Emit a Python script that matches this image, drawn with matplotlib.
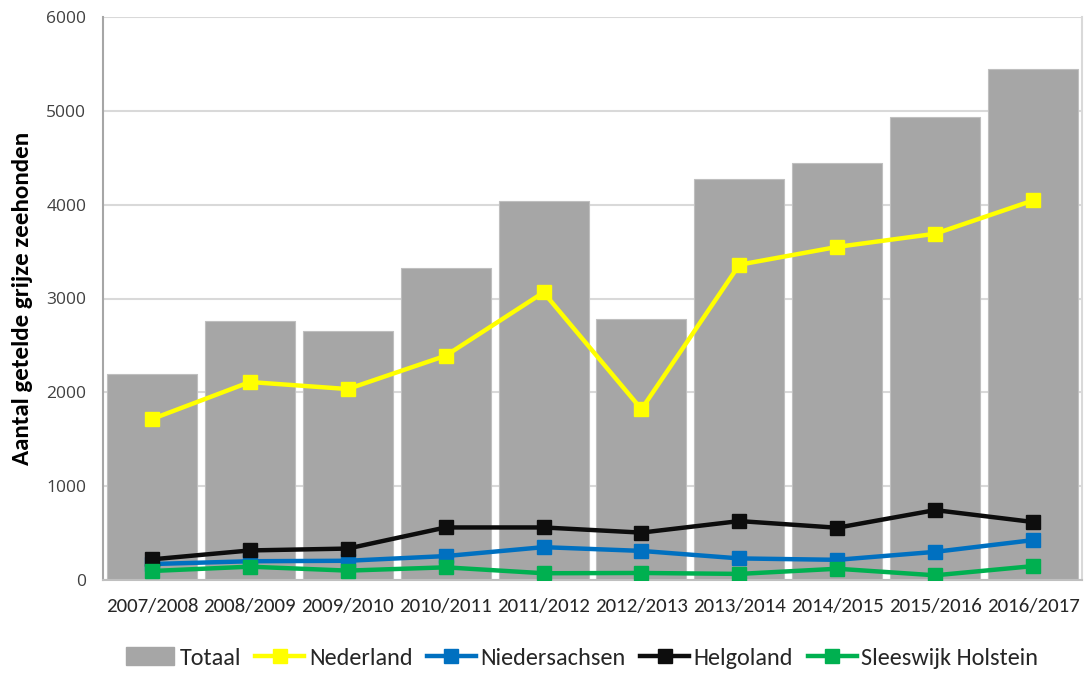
import matplotlib
matplotlib.use("Agg")
import matplotlib.pyplot as plt
from matplotlib.patches import Patch
from matplotlib.lines import Line2D
from matplotlib import font_manager as fm

seasons = ["2007/2008", "2008/2009", "2009/2010", "2010/2011", "2011/2012",
           "2012/2013", "2013/2014", "2014/2015", "2015/2016", "2016/2017"]
totaal = [2200, 2760, 2655, 3320, 4040, 2785, 4275, 4440, 4935, 5445]
nederland = [1715, 2110, 2035, 2390, 3065, 1820, 3360, 3550, 3690, 4045]
niedersachsen = [170, 200, 205, 255, 350, 310, 230, 215, 300, 425]
helgoland = [220, 315, 335, 560, 560, 505, 628, 557, 745, 618]
sleeswijk = [96, 142, 100, 135, 72, 75, 65, 120, 50, 148]

names = {f.name for f in fm.fontManager.ttflist}
narrow = next((n for n in ["Carlito", "Open Sans Condensed", "Cabin Condensed",
                           "Archivo Narrow", "Barlow Semi Condensed"] if n in names), "DejaVu Sans")
ticks_font = "Open Sans" if "Open Sans" in names else "DejaVu Sans"

fig = plt.figure(figsize=(10.84, 6.73), dpi=100)
ax = fig.add_axes([103/1084, 1-580/673, (1082-103)/1084, (580-17)/673])

x = list(range(len(seasons)))
ax.bar(x, totaal, width=0.92, color="#A6A6A6", edgecolor="#BFBFBF", linewidth=0.8, zorder=2)

series = [(nederland, "#FFFF00", "Nederland"),
          (niedersachsen, "#0070C0", "Niedersachsen"),
          (helgoland, "#0D0D0D", "Helgoland"),
          (sleeswijk, "#00B050", "Sleeswijk Holstein")]
for vals, col, lab in series:
    ax.plot(x, vals, color=col, lw=3.2, marker="s", markersize=10, zorder=3)

ax.set_xlim(-0.5, len(seasons) - 0.5)
ax.set_ylim(0, 6000)
ax.set_yticks(range(0, 6001, 1000))
ax.yaxis.grid(True, color="#D9D9D9", lw=1.5, zorder=0)
ax.set_axisbelow(True)
ax.spines["top"].set_visible(False)
ax.spines["left"].set_color("#A6A6A6")
ax.spines["left"].set_linewidth(1.5)
ax.spines["bottom"].set_color("#BFBFBF")
ax.spines["bottom"].set_linewidth(1.5)
ax.spines["right"].set_color("#D9D9D9")
ax.spines["right"].set_linewidth(1.5)
ax.tick_params(axis="both", length=0)
ax.tick_params(axis="y", pad=12)
ax.tick_params(axis="x", pad=13)
ax.set_xticks(x)
ax.set_xticklabels(seasons, fontfamily=narrow, fontsize=15, color="#262626")
for t in ax.get_yticklabels():
    t.set_fontfamily(ticks_font)
    t.set_fontsize(12.5)
    t.set_color("#404040")

ax.set_ylabel("Aantal getelde grijze zeehonden", fontfamily=narrow, fontweight="bold",
              fontsize=18, color="#000000")
ax.yaxis.set_label_coords(-0.071, 0.5)

handles = [Patch(facecolor="#A6A6A6", edgecolor="#A6A6A6", label="Totaal")]
for vals, col, lab in series:
    handles.append(Line2D([0], [0], color=col, lw=3.2, marker="s", markersize=10, label=lab))
leg = fig.legend(handles=handles, loc="center", bbox_to_anchor=(0.537, 1-658/673), ncol=5,
                 frameon=False, prop={"family": narrow, "size": 17.5},
                 handlelength=2.0, handletextpad=0.2, columnspacing=0.6)
for t in leg.get_texts():
    t.set_color("#262626")

fig.savefig("out.png", dpi=100)
